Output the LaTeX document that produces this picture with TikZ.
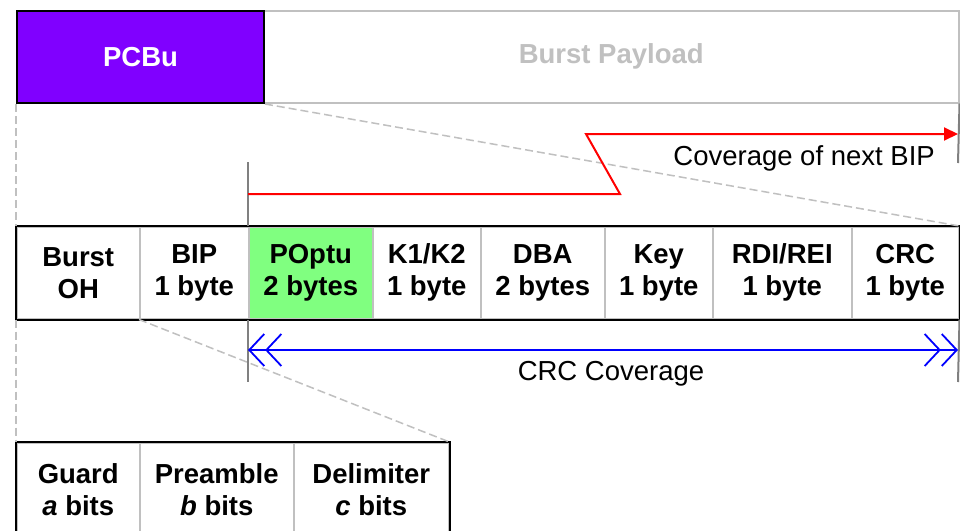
\documentclass[tikz,border=0pt]{standalone}
\usepackage{fontspec}
\setmainfont{Liberation Sans}
\usetikzlibrary{arrows.meta}
\definecolor{pcbu}{HTML}{8000FF}
\definecolor{lgray}{HTML}{C0C0C0}
\definecolor{mgray}{HTML}{808080}
\definecolor{poptu}{HTML}{80FF80}
\tikzset{chev/.tip={Straight Barb[length=15pt,width=32pt,sep=0pt]Straight Barb[length=15pt,width=32pt]}}
\begin{document}
\begin{tikzpicture}[x=1pt,y=-1pt,
  lbl/.style={font=\fontsize{27.5}{32}\selectfont},
  cell/.style={lbl, draw=lgray, line width=1.5pt, minimum height=92pt,
    inner sep=0pt, align=center, anchor=north west, font=\fontsize{27.5}{32}\selectfont\bfseries},
  frame/.style={draw=black, line width=2pt},
  guide/.style={draw=lgray, line width=1.5pt, dash pattern=on 8pt off 4pt},
  marker/.style={draw=mgray, line width=2pt},
  bipline/.style={draw=red, line width=2pt},
  crcline/.style={draw=blue, line width=1.8pt}]
\useasboundingbox[fill=white] (0,0) rectangle (960,530);

% burst: PCBu and payload
\node[cell, minimum width=695pt, text=lgray] (payload) at (263,10) {Burst Payload};
\node[cell, frame, fill=pcbu, text=white, minimum width=247pt] (pcbu) at (16,10) {PCBu};

% PCBu fields
\node[cell, minimum width=123pt] (oh) at (16,226) {Burst\\OH};
\node[cell, minimum width=109pt] (bip) at (139,226) {BIP\\1 byte};
\node[cell, minimum width=124pt, fill=poptu] (popt) at (248,226) {POptu\\2 bytes};
\node[cell, minimum width=108pt] (k12) at (372,226) {K1/K2\\1 byte};
\node[cell, minimum width=124pt] (dba) at (480,226) {DBA\\2 bytes};
\node[cell, minimum width=108pt] (key) at (604,226) {Key\\1 byte};
\node[cell, minimum width=139pt] (rdi) at (712,226) {RDI/REI\\1 byte};
\node[cell, minimum width=107pt] (crc) at (851,226) {CRC\\1 byte};
\draw[frame] (oh.north west) rectangle (crc.south east);

% burst overhead fields
\node[cell, minimum width=123pt, minimum height=94pt] (guard) at (16,442) {Guard\\\textit{a} bits};
\node[cell, minimum width=154pt, minimum height=94pt] (pre) at (139,442) {Preamble\\\textit{b} bits};
\node[cell, minimum width=155pt, minimum height=94pt] (delim) at (293,442) {Delimiter\\\textit{c} bits};
\draw[frame] (guard.north west) rectangle (delim.south east);

% zoom guides
\draw[guide] (pcbu.south west) -- (oh.north west);
\draw[guide] (pcbu.south east) -- (crc.north east);
\draw[guide] (oh.south west) -- (guard.north west);
\draw[guide] (bip.south west) -- (delim.north east);

% coverage markers
\coordinate (lmTop) at (248,162);
\coordinate (lmBot) at (248,382);
\coordinate (rmTop) at (958,163);
\coordinate (rmBot) at (958,382);
\draw[marker] (lmTop) -- (popt.north west);
\draw[marker] (popt.south west) -- (lmBot);
\draw[marker] (payload.south east) -- (rmTop);
\draw[marker] (crc.south east) -- (rmBot);

% next BIP coverage
\coordinate (bipA) at (248,194);
\coordinate (bipB) at (958,134);
\draw[bipline, -{Triangle[length=14pt,width=13pt]}] (bipA) -- (620,194) -- (586,134) -- (bipB);
\node[lbl, anchor=base east, inner sep=0pt] (bipTxt) at (935,165) {Coverage of next BIP};

% CRC coverage
\coordinate (crcA) at (248,350);
\coordinate (crcB) at (958,350);
\draw[crcline, chev-chev] (crcA) -- (crcB);
\node[lbl, anchor=base, inner sep=0pt] (crcTxt) at (611,380) {CRC Coverage};
\end{tikzpicture}
\end{document}
